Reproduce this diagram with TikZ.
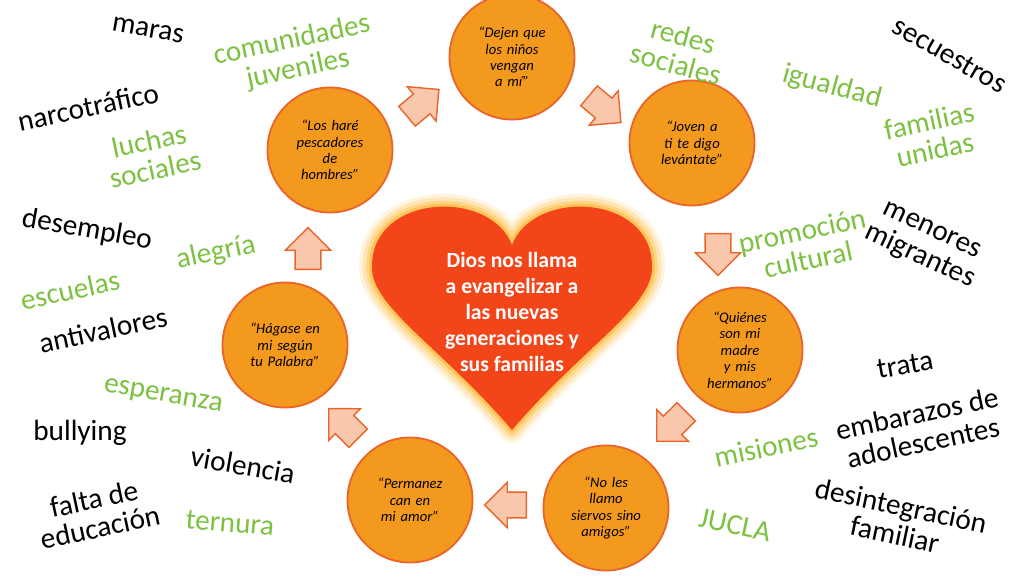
\documentclass[tikz,border=0pt]{standalone}
\usepackage{fontspec}
\setmainfont{Carlito}
\usetikzlibrary{shapes.arrows}
\definecolor{ringfill}{HTML}{F39A1E}
\definecolor{ringline}{HTML}{E9652A}
\definecolor{heartred}{HTML}{F2461A}
\definecolor{leafgreen}{HTML}{7DC142}
\definecolor{peach}{HTML}{F9C7AC}
\tikzset{
  ring/.style={circle,fill=ringfill,draw=ringline,line width=1.6pt,minimum size=3.75cm,align=center,font=\itshape\fontsize{12.5}{14}\selectfont,text width=2.1cm},
  flow/.style={single arrow,fill=peach,draw=ringline,line width=1.2pt,minimum height=1.25cm,minimum width=1.35cm,single arrow head extend=0.12cm,inner sep=4pt},
  bad/.style={align=center,font=\fontsize{25}{25}\selectfont},
  good/.style={align=center,text=leafgreen,font=\fontsize{25}{25}\selectfont}
}
\begin{document}
\begin{tikzpicture}[x=0.03cm,y=0.03cm]
    \useasboundingbox (0,0) rectangle (1024,576);
    % heart with glow
    \def\heartpath{(512,146) .. controls (440,230) and (370,270) .. (372,310) .. controls (372,382) and (490,388) .. (512,331) .. controls (534,388) and (652,382) .. (652,310) .. controls (654,270) and (584,230) .. (512,146) -- cycle}
    \foreach \w/\o in {22/0.12,16/0.18,10/0.25,5/0.35}
        \draw [line width=\w pt,draw=orange!70!yellow,opacity=\o,line join=round] \heartpath;
    \fill [heartred] \heartpath;
    \node (Heart) [align=center,text=white,font=\bfseries\fontsize{18.5}{22}\selectfont] at (512,264)
        {Dios nos llama\\a evangelizar a\\las nuevas\\generaciones y\\sus familias};
    % circles
    \node [ring] (Ninos) at (512,519) {“Dejen que los niños vengan a mí”};
    \node [ring] (Joven) at (692,433) {“Joven a ti te digo levántate”};
    \node [ring] (Madre) at (740,226) {“Quiénes son mi madre y mis hermanos”};
    \node [ring] (Amigos) at (606,68) {“No les llamo siervos sino amigos”};
    \node [ring] (Amor) at (410,76) {“Permanez can en mi amor”};
    \node [ring] (Palabra) at (285,231) {“Hágase en mi según tu Palabra”};
    \node [ring] (Pescadores) at (330,426) {“Los haré pescadores de hombres”};
    % arrows between circles
    \node [flow,rotate=40] (A1) at (418,469) {};
    \node [flow,rotate=-40] (A2) at (600,471) {};
    \node [flow,rotate=-90] (A3) at (718,328) {};
    \node [flow,rotate=-135] (A4) at (676,154) {};
    \node [flow,rotate=180] (A5) at (512,71) {};
    \node [flow,rotate=135] (A6) at (348,148) {};
    \node [flow,rotate=90] (A7) at (308,321) {};
    % black words
    \node [bad,rotate=-10] (Maras) at (148,546) {maras};
    \node [bad,rotate=12] (Narco) at (88,469) {narcotráfico};
    \node [bad,rotate=-10] (Desempleo) at (87,346) {desempleo};
    \node [bad,rotate=12] (Antivalores) at (103,246) {antivalores};
    \node [bad] (Bullying) at (80,143) {bullying};
    \node [bad,rotate=-10] (Violencia) at (243,111) {violencia};
    \node [bad,rotate=12] (Educacion) at (97,63) {falta de\\educación};
    \node [bad,rotate=-30] (Secuestros) at (950,521) {secuestros};
    \node [bad,rotate=-25] (Menores) at (925,331) {menores\\migrantes};
    \node [bad,rotate=10] (Trata) at (905,211) {trata};
    \node [bad,rotate=12] (Embarazos) at (920,148) {embarazos de\\adolescentes};
    \node [bad,rotate=-12] (Desintegracion) at (898,56) {desintegración\\familiar};
    % green words
    \node [good,rotate=12] (Comunidades) at (295,521) {comunidades\\juveniles};
    \node [good,rotate=12] (Luchas) at (152,421) {luchas\\sociales};
    \node [good,rotate=12] (Alegria) at (216,323) {alegría};
    \node [good,rotate=12] (Escuelas) at (70,286) {escuelas};
    \node [good,rotate=-10] (Esperanza) at (163,179) {esperanza};
    \node [good,rotate=-5] (Ternura) at (230,53) {ternura};
    \node [good,rotate=-15] (Redes) at (680,526) {redes\\sociales};
    \node [good,rotate=-15] (Igualdad) at (832,489) {igualdad};
    \node [good,rotate=12] (Familias) at (932,441) {familias\\unidas};
    \node [good,rotate=12] (Promocion) at (805,331) {promoción\\cultural};
    \node [good,rotate=12] (Misiones) at (766,129) {misiones};
    \node [good,rotate=-12] (Jucla) at (735,51) {JUCLA};
\end{tikzpicture}
\end{document}
